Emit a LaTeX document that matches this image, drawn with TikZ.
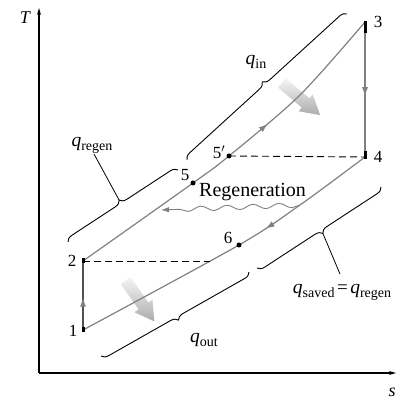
\documentclass[tikz,border=0pt]{standalone}
\usepackage{fontspec}
\setmainfont{Liberation Serif}
\usetikzlibrary{decorations.pathreplacing,decorations.pathmorphing,decorations.markings,arrows.meta,calc}
\definecolor{cyc}{RGB}{128,128,128}
\definecolor{cycdark}{RGB}{80,80,80}
\newcommand\qlab[1]{{\fontsize{19.5}{19.5}\selectfont\itshape q}\raisebox{-4pt}{\fontsize{14}{14}\selectfont #1}}
\begin{document}
\begin{tikzpicture}[x=1pt,y=1pt,
  cyclepath/.style={draw=cyc, line width=1.2pt},
  midarrow/.style={postaction={decorate},decoration={markings,mark=at position #1 with {\arrow[cyc]{Latex[length=9pt,width=6pt]}}}},
  brc/.style={decorate,decoration={brace,amplitude=7pt},draw=black,line width=0.9pt},
  lbl/.style={font=\fontsize{17}{17}\selectfont, inner sep=0pt},
  dotnode/.style={circle,fill=black,inner sep=0pt,minimum size=5pt},
  fatshade/.style={top color=gray!8, bottom color=gray!65, draw=none}
]
\useasboundingbox (0,0) rectangle (407,399);
% points
\coordinate (p1) at (83,69);
\coordinate (p2) at (83,138);
\coordinate (p3) at (365,377);
\coordinate (p4) at (365,242);
\coordinate (p5) at (193,216);
\coordinate (p5p) at (229,243);
\coordinate (p6) at (239,154);
\coordinate (u1) at (300,304);
\coordinate (l1) at (300,194);
\coordinate (d2) at (210,138);
\coordinate (wL) at (161,189);
% axes
\coordinate (O) at (39,26);
\coordinate (Ttop) at (39,391);
\coordinate (Sright) at (396,26);
\draw[line width=1.2pt,-{Stealth[length=7pt,width=4pt]}] (O) -- (Ttop);
\draw[line width=1.2pt,-{Stealth[length=7pt,width=4pt]}] (O) -- (Sright);
\node[font=\fontsize{18}{18}\selectfont\itshape, inner sep=0pt] (Tl) at (25,381) {T};
\node[font=\fontsize{18}{18}\selectfont\itshape, inner sep=0pt] (Sl) at (392,7) {s};
% fat shaded arrows
\shade[fatshade, shift={(301,300)}, rotate=-40] (-25,-6) -- (6,-6) -- (6,-11) -- (25,0) -- (6,11) -- (6,6) -- (-25,6) -- cycle;
\shade[fatshade, shift={(140,98)}, rotate=-55] (-25,-6) -- (6,-6) -- (6,-11) -- (25,0) -- (6,11) -- (6,6) -- (-25,6) -- cycle;
% cycle
\draw[cyclepath, midarrow=0.62] plot[smooth] coordinates {(p2) (p5) (p5p) (u1) (p3)};
\draw[cyclepath, midarrow=0.37] plot[smooth] coordinates {(p4) (l1) (p6) (p1)};
\draw[draw=cycdark, line width=1.3pt, midarrow=0.47] (p1) -- (p2);
\draw[cyclepath, midarrow=0.55] (p3) -- (p4);
\fill (81.5,66.5) rectangle (84.5,71.5);
\fill (81.5,135.5) rectangle (84.5,140.5);
\fill (363.5,366) rectangle (366.5,378);
\fill (363.5,240) rectangle (366.5,248);
% dashed
\draw[line width=0.9pt, dash pattern=on 7pt off 4pt] (p2) -- (d2);
\draw[line width=0.9pt, dash pattern=on 7pt off 4pt] (p5p) -- (p4);
% regeneration wavy
\draw[cyc, line width=0.9pt, decorate, decoration={snake,amplitude=2.4pt,segment length=26pt,post length=8pt}, -{Latex[length=8pt,width=5.5pt]}] (l1) -- (wL);
\node[font=\fontsize{20}{20}\selectfont, inner sep=0pt, anchor=base west] (regen) at (199,202) {Regeneration};
% dots
\node[dotnode] (n5) at (p5) {};
\node[dotnode] (n5p) at (p5p) {};
\node[dotnode] (n6) at (p6) {};
% labels
\node[lbl] (L1) at (73,68) {1};
\node[lbl] (L2) at (72,138) {2};
\node[lbl] (L3) at (378,377) {3};
\node[lbl] (L4) at (378,242) {4};
\node[lbl] (L5) at (185,224) {5};
\node[lbl] (L5p) at (219,247) {5$'$};
\node[lbl] (L6) at (228,161) {6};
% braces
\coordinate (bi1) at (187,239);
\coordinate (bi2) at (347,385);
\draw[brc] (bi1) -- (bi2);
\node[inner sep=0pt] (qin) at (256,337) {\qlab{in}};
\coordinate (br1) at (68,157);
\coordinate (br2) at (178,229);
\draw[brc] (br1) -- (br2);
\coordinate (brtip) at ($($(br1)!0.5!(br2)$)!7pt!90:(br2)$);
\node[inner sep=0pt] (qregen) at (92,254) {\qlab{regen}};
\coordinate (qrl) at (94,245);
\draw[line width=0.8pt] (qrl) -- (brtip);
\coordinate (bo1) at (101,43);
\coordinate (bo2) at (249,127);
\draw[brc] (bo2) -- (bo1);
\node[inner sep=0pt] (qout) at (204,59) {\qlab{out}};
\coordinate (bs1) at (257,131);
\coordinate (bs2) at (381,212);
\draw[brc] (bs2) -- (bs1);
\coordinate (bstip) at ($($(bs2)!0.5!(bs1)$)!7pt!90:(bs1)$);
\node[inner sep=0pt] (qsaved) at (342,107) {\qlab{saved}\ {\fontsize{19}{19}\selectfont =}\ \qlab{regen}};
\coordinate (qsl) at (340,125);
\draw[line width=0.8pt] (qsl) -- (bstip);
\end{tikzpicture}
\end{document}
